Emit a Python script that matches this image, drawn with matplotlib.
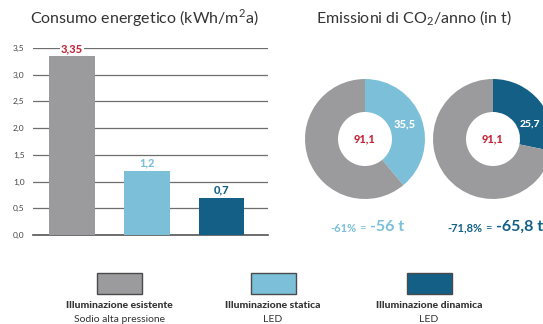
import matplotlib
matplotlib.use("Agg")
import matplotlib.pyplot as plt
from matplotlib.patches import Rectangle

plt.rcParams['font.family'] = ['Lato', 'DejaVu Sans']
plt.rcParams['mathtext.fontset'] = 'custom'
plt.rcParams['mathtext.rm'] = 'Lato'

# energy use per lighting system (kWh/m2a)
consumo = [3.35, 1.2, 0.7]
consumo_labels = ["3,35", "1,2", "0,7"]
yticks = [0.0, 0.5, 1.0, 1.5, 2.0, 2.5, 3.0, 3.5]
ytick_labels = ["0,0", "0,5", "1,0", "1,5", "2,0", "2,5", "3,0", "3,5"]

# CO2 per year (t): existing total and the LED share of it
co2_esistente = 91.1
co2_statica = 35.5
co2_dinamica = 25.7
risparmio_statica = ("-61%", "-56 t")
risparmio_dinamica = ("-71,8%", "-65,8 t")

legend_titles = ["Illuminazione esistente", "Illuminazione statica", "Illuminazione dinamica"]
legend_sub = ["Sodio alta pressione", "LED", "LED"]

GRAY = "#9b9b9d"
LIGHT = "#7bbfd9"
DARK = "#135f86"
RED = "#c22a3c"
colors = [GRAY, LIGHT, DARK]

W, H = 543, 324
fig = plt.figure(figsize=(W / 100, H / 100), dpi=100)

# --- bar chart ---
ax = fig.add_axes([33 / W, (H - 235) / H, 235 / W, 187 / H])
x = [0, 1, 2]
ax.bar(x, consumo, width=0.61, color=colors, zorder=3)
ax.set_xlim(-0.52, 2.62)
ax.set_ylim(0, 3.5)
ax.set_yticks(yticks)
ax.set_yticklabels(ytick_labels, fontsize=6, color="#444444")
ax.tick_params(axis="y", length=0, pad=6)
ax.set_xticks([])
ax.grid(axis="y", color="#6e6e6e", lw=0.9, zorder=0)
for s in ["top", "right", "left"]:
    ax.spines[s].set_visible(False)
ax.spines["bottom"].set_color("#555555")
ax.spines["bottom"].set_linewidth(1.2)
ax.patch.set_alpha(0)
label_colors = [RED, LIGHT, DARK]
for xi, v, lab, c in zip(x, consumo, consumo_labels, label_colors):
    ax.text(xi, v + 0.04, lab, ha="center", va="bottom", fontsize=8,
            fontweight="black", color=c, zorder=4,
            bbox=dict(facecolor="white", edgecolor="none", pad=0.5))

# --- overlay in pixel coordinates (y up) ---
ov = fig.add_axes([0, 0, 1, 1])


def py(y):
    return H - y


# donuts
r_out, r_w = 60, 33
donuts = [
    (365, co2_statica, LIGHT),
    (493, co2_dinamica, DARK),
]
for cx, part, c in donuts:
    ov.pie([part, co2_esistente - part], colors=[c, GRAY], startangle=90,
           counterclock=False, center=(cx, py(139)), radius=r_out,
           wedgeprops=dict(width=r_w, linewidth=0), frame=True)
    ov.text(cx, py(139), "91,1", ha="center", va="center", fontsize=8,
            fontweight="black", color=RED)
ov.set_xlim(0, W)
ov.set_ylim(0, H)
ov.set_aspect("auto")
ov.axis("off")
ov.patch.set_alpha(0)

ov.text(144, py(18), "Consumo energetico (kWh/m$^2$a)", ha="center", va="center",
        fontsize=11.5, color="#333333")
ov.text(414, py(18), "Emissioni di CO$_2$/anno (in t)", ha="center", va="center",
        fontsize=11.5, color="#333333")

ov.text(405, py(124), "35,5", ha="center", va="center", fontsize=8,
        fontweight="black", color="white")
ov.text(520, py(124), "25,7", ha="left", va="center", fontsize=7.5,
        fontweight="black", color="white")

# savings
for (pct, tons), c, x0 in [(risparmio_statica, LIGHT, 330),
                           (risparmio_dinamica, DARK, 447)]:
    t1 = ov.text(x0, py(228), pct, ha="left", va="center", fontsize=8,
                 fontweight="bold", color=c)
    fig.canvas.draw()
    bb = t1.get_window_extent()
    t2 = ov.text(bb.x1 + 3, py(228), "=", ha="left", va="center", fontsize=8,
                 color=c)
    bb = t2.get_window_extent()
    ov.text(bb.x1 + 4, py(227), tons, ha="left", va="center", fontsize=11.5,
            fontweight="bold", color=c)

# legend
for cx, c, t, s in zip([119, 273, 429], colors, legend_titles, legend_sub):
    ov.add_patch(Rectangle((cx - 22.5, py(294)), 45, 21, facecolor=c,
                           edgecolor="#4a4a4a", lw=1))
    ov.text(cx, py(306), t, ha="center", va="center", fontsize=7.5,
            fontweight="black", color="#333333")
    ov.text(cx, py(320), s, ha="center", va="center", fontsize=7.5,
            color="#333333")

fig.savefig("out.png", dpi=100)
